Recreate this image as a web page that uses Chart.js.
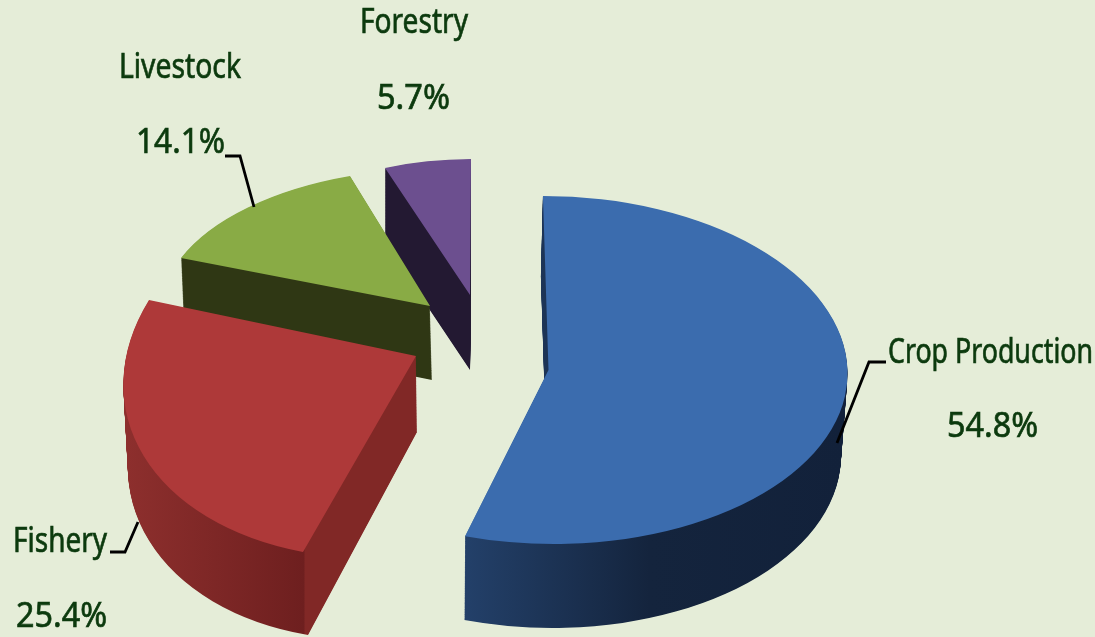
<!DOCTYPE html>
<html><head><meta charset="utf-8">
<style>html,body{margin:0;padding:0;background:#e5edd8;overflow:hidden}canvas{display:block}</style>
<script src="https://cdn.jsdelivr.net/npm/chart.js@4"></script>
</head><body><div style="width:1095px;height:637px"><canvas id="c" width="1095" height="637"></canvas></div>
<script>
const categories = ['Crop Production', 'Fishery', 'Livestock', 'Forestry'];
const shares = [54.8, 25.4, 14.1, 5.7];
const topColors = ['#3b6cae', '#ae3939', '#89ab45', '#6c4f8f'];
const sideStops = [
  [[466,'#234069'],[650,'#14243d'],[845,'#12213a']],
  [[115,'#8f302e'],[304,'#6e1f1f'],[305,'#812826'],[420,'#812826']],
  [[180,'#2f3714'],[435,'#2f3714']],
  [[380,'#231932'],[475,'#231932']]
];
// Projection of each flat slice onto the tilted plane: top and bottom faces
const topFrames = [
  {ellipse:[548.5,370,299,174,0.032]},
  {pts:[[416,356],[303,552],[149,300]]},
  {pts:[[430,306],[181,258],[350,176]]},
  {pts:[[470,295],[385,168],[471,159]]}
];
const bottomFrames = [
  {ellipse:[546.5,452,294.5,176,0.032]},
  {pts:[[417,432],[308,635],[152,381]]},
  {pts:[[432,380],[184,330],[352,250]]},
  {pts:[[470,370],[385,243],[471,234]]}
];
const drawOrder = [3, 2, 0, 1];
const nameLabels = [[888,363,205],[13,552,94],[119,78,122],[360,33,108]];
const valueLabels = [[947,437,91],[16,627,91],[136,153,89],[377,109,73]];
const leaders = [
  [[886,362],[869,362],[837,443]],
  [[110,552],[125,552],[138,522]],
  [[225,156],[240,156],[254,207]]
];
const textColor = '#0c3a0e';

function matrixFor(frame, arc) {
  let M, O;
  if (frame.ellipse) {
    const [cx, cy, rx, ry, k] = frame.ellipse;
    M = [rx, k * ry, 0, ry]; O = [cx, cy];
  } else {
    const [o, s, e] = frame.pts;
    const u = [s[0]-o[0], s[1]-o[1]], v = [e[0]-o[0], e[1]-o[1]];
    const c0 = Math.cos(arc.startAngle), s0 = Math.sin(arc.startAngle);
    const c1 = Math.cos(arc.endAngle), s1 = Math.sin(arc.endAngle);
    const det = c0*s1 - c1*s0;
    M = [(u[0]*s1 - v[0]*s0)/det, (-u[0]*c1 + v[0]*c0)/det,
         (u[1]*s1 - v[1]*s0)/det, (-u[1]*c1 + v[1]*c0)/det];
    O = o;
  }
  const R = arc.outerRadius;
  const a = M[0]/R, c = M[1]/R, b = M[2]/R, d = M[3]/R;
  return [a, b, c, d, O[0] - (a*arc.x + c*arc.y), O[1] - (b*arc.x + d*arc.y)];
}
function drawWith(ctx, arc, m, fill) {
  ctx.save();
  ctx.transform(m[0], m[1], m[2], m[3], m[4], m[5]);
  const f = typeof fill === 'function' ? fill(m) : fill;
  const clone = Object.create(arc);
  clone.options = Object.assign({}, arc.options, {backgroundColor: f, borderWidth: 0, borderColor: f});
  clone.draw(ctx);
  ctx.restore();
}
const tiltedPie = {
  id: 'tiltedPie',
  beforeDatasetsDraw(chart) {
    const ctx = chart.ctx;
    const arcs = chart.getDatasetMeta(0).data;
    drawOrder.forEach(i => {
      const arc = arcs[i];
      const t = matrixFor(topFrames[i], arc), bm = matrixFor(bottomFrames[i], arc);
      const stops = sideStops[i];
      const x0 = stops[0][0], x1 = stops[stops.length-1][0];
      const sideFill = m => {
        const n = m[0]*m[0] + m[2]*m[2];
        const g = ctx.createLinearGradient(
          (x0-m[4])/n*m[0], (x0-m[4])/n*m[2], (x1-m[4])/n*m[0], (x1-m[4])/n*m[2]);
        stops.forEach(s => g.addColorStop((s[0]-x0)/(x1-x0), s[1]));
        return g;
      };
      const steps = 100;
      for (let s = steps; s > 0; s--) {
        const p = s/steps;
        drawWith(ctx, arc, t.map((v, k) => v + (bm[k]-v)*p), sideFill);
      }
      drawWith(ctx, arc, t, topColors[i]);
    });
    ctx.save();
    ctx.strokeStyle = '#000'; ctx.lineWidth = 2.8;
    leaders.forEach(l => {
      ctx.beginPath();
      l.forEach((p, k) => k ? ctx.lineTo(p[0], p[1]) : ctx.moveTo(p[0], p[1]));
      ctx.stroke();
    });
    ctx.fillStyle = textColor;
    ctx.strokeStyle = textColor;
    ctx.lineWidth = 0.7;
    ctx.font = '35px "Noto Sans"';
    ctx.textBaseline = 'alphabetic';
    const put = (txt, pos) => {
      ctx.fillText(txt, pos[0], pos[1], pos[2]);
      ctx.strokeText(txt, pos[0], pos[1], pos[2]);
    };
    categories.forEach((name, i) => {
      put(name, nameLabels[i]);
      put(shares[i].toFixed(1) + '%', valueLabels[i]);
    });
    ctx.restore();
    return false;
  }
};
new Chart(document.getElementById('c'), {
  type: 'pie',
  data: { labels: categories, datasets: [{ data: shares, backgroundColor: topColors, borderWidth: 0 }] },
  options: {
    responsive: false, animation: false,
    plugins: { legend: {display:false}, tooltip: {enabled:false} }
  },
  plugins: [tiltedPie]
});
</script></body></html>
